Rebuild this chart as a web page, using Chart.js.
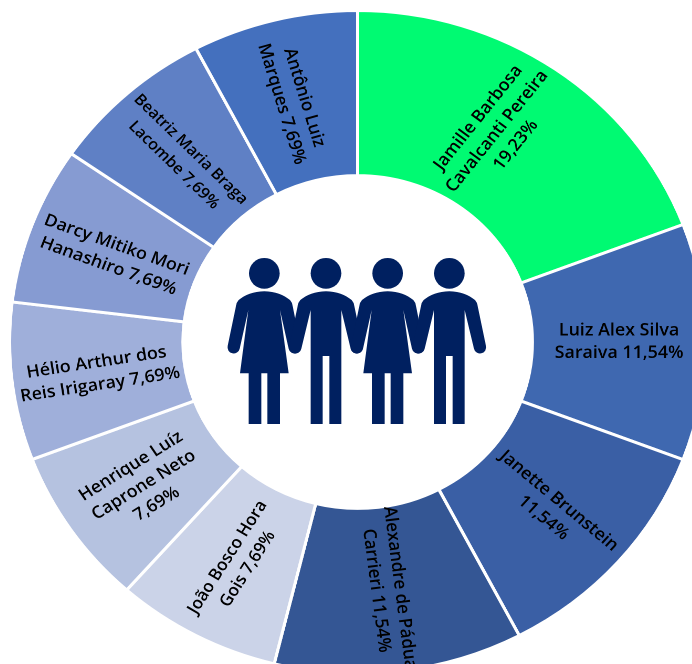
<!DOCTYPE html>
<html lang="pt-BR">
<head>
<meta charset="utf-8">
<title>Participação por docente</title>
<script src="https://cdn.jsdelivr.net/npm/chart.js@4"></script>
<style>
  html, body { margin: 0; padding: 0; background: #fff; }
  #wrap { position: relative; width: 692px; height: 664px; overflow: hidden; }
  /* the ring is slightly wider than tall */
  #ring { position: absolute; left: 8.35px; top: 8.5px; transform: scale(1.05, 1); transform-origin: 0 0; }
  #people { position: absolute; left: 180px; top: 150px; width: 360px; height: 360px; }
</style>
</head>
<body>
<div id="wrap">
  <canvas id="ring" width="666" height="666"></canvas>
  <svg id="people" viewBox="0 0 1080 1080" fill="#002060">
    <defs>
      <g id="pair">
        <circle cx="253" cy="370" r="46"/>
        <path d="M253 424 C285 424 312 436 330 450 Q336 456 338 468 L362 588 A18 18 0 0 1 326 596 L300 480 L326 670 H300 V822 H262 V670 H244 V822 H206 V670 H180 L205 480 L179 596 A18 18 0 0 1 143 588 L168 468 Q170 456 176 450 C194 436 221 424 253 424 Z"/>
        <circle cx="438" cy="370" r="46"/>
        <path d="M438 424 C470 424 497 436 515 450 Q521 456 523 468 L548 588 A18 18 0 0 1 512 596 L484 480 V822 H448 V618 H428 V822 H392 V480 L364 596 A18 18 0 0 1 328 588 L353 468 Q355 456 361 450 C379 436 406 424 438 424 Z"/>
      </g>
    </defs>
    <use href="#pair"/>
    <use href="#pair" x="370"/>
  </svg>
</div>
<script>
// Chart data
const shares = [19.23, 11.54, 11.54, 11.54, 7.69, 7.69, 7.69, 7.69, 7.69, 7.69];
const names = [
  'Jamille Barbosa Cavalcanti Pereira',
  'Luiz Alex Silva Saraiva',
  'Janette Brunstein',
  'Alexandre de Pádua Carrieri',
  'João Bosco Hora Gois',
  'Henrique Luíz Caprone Neto',
  'Hélio Arthur dos Reis Irigaray',
  'Darcy Mitiko Mori Hanashiro',
  'Beatriz Maria Braga Lacombe',
  'Antônio Luiz Marques'
];
const sliceColors = ['#00FA72', '#3F68B0', '#3A5FA5', '#345694', '#CBD3E8', '#B5C2E0', '#9FAFDA', '#869BD2', '#5F80C5', '#4470BE'];

// Wrapped label text; {v} is replaced with the share of the slice
const labelLines = [
  ['Jamille Barbosa', 'Cavalcanti Pereira', '{v}'],
  ['Luiz Alex Silva', 'Saraiva {v}'],
  ['Janette Brunstein', '{v}'],
  ['Alexandre de Pádua', 'Carrieri {v}'],
  ['João Bosco Hora', 'Gois {v}'],
  ['Henrique Luíz', 'Caprone Neto', '{v}'],
  ['Hélio Arthur dos', 'Reis Irigaray {v}'],
  ['Darcy Mitiko Mori', 'Hanashiro {v}'],
  ['Beatriz Maria Braga', 'Lacombe {v}'],
  ['Antônio Luiz', 'Marques {v}']
];
// Rotation of each label, degrees clockwise
const labelRotation = [-52.5, 0, 41, 82.8, -58.5, -33, -9, 20.5, 45.5, 73.5];
// The green slice has its text pulled towards the previous slice, degrees along the ring
const labelAngleShift = [-2.4, 0, 0.7, 0.2, -0.4, -0.5, -0.4, -0.5, -0.6, -0.5];
const labelFontSize = [17, 17, 17, 17, 16.5, 17, 17, 17, 15.5, 17];

function formatShare(value) {
  return value.toFixed(2).replace('.', ',') + '%';
}

// Draws the rotated text on top of each slice
const sliceLabels = {
  id: 'sliceLabels',
  afterDatasetsDraw(chart) {
    const ctx = chart.ctx;
    const lineHeight = 22.5;
    chart.getDatasetMeta(0).data.forEach((arc, i) => {
      const { x, y, startAngle, endAngle, innerRadius, outerRadius } = arc;
      const angle = (startAngle + endAngle) / 2 + labelAngleShift[i] * Math.PI / 180;
      const radius = (innerRadius + outerRadius) / 2;
      const lines = labelLines[i];
      ctx.save();
      ctx.translate(x + Math.cos(angle) * radius, y + Math.sin(angle) * radius);
      ctx.rotate(labelRotation[i] * Math.PI / 180);
      ctx.font = `600 ${labelFontSize[i]}px "Open Sans"`;
      ctx.fillStyle = '#000';
      ctx.textAlign = 'center';
      ctx.textBaseline = 'middle';
      lines.forEach((line, n) => {
        const lineY = (n - (lines.length - 1) / 2) * lineHeight;
        ctx.fillText(line.replace('{v}', formatShare(shares[i])), 0, lineY);
      });
      ctx.restore();
    });
  }
};

new Chart(document.getElementById('ring'), {
  type: 'doughnut',
  data: {
    labels: names,
    datasets: [{
      data: shares,
      backgroundColor: sliceColors,
      borderColor: '#fff',
      borderWidth: 3
    }]
  },
  options: {
    responsive: false,
    animation: false,
    devicePixelRatio: 2,
    cutout: '50.2%',
    plugins: {
      legend: { display: false },
      tooltip: { enabled: false }
    }
  },
  plugins: [sliceLabels]
});
</script>
</body>
</html>
